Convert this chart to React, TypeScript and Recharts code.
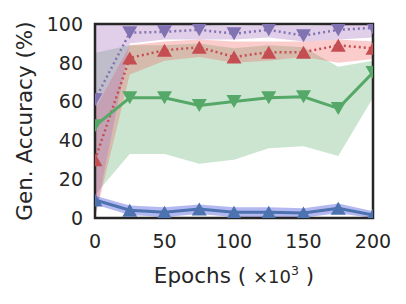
import React from 'react';
import { ComposedChart, Area, Line, XAxis, YAxis, ReferenceArea, Label } from 'recharts';

const epochs = [0, 25, 50, 75, 100, 125, 150, 175, 200];
const xTicks = [0, 50, 100, 150, 200];
const yTicks = [0, 20, 40, 60, 80, 100];

const purpleMean = [61, 95.5, 96, 97, 95, 97, 94, 97, 98];
const purpleLow = [0, 90, 92, 92, 92, 93, 91, 92, 93];
const purpleHigh = [100, 100, 99.5, 99.5, 99, 99.5, 99, 99.5, 99.5];

const redMean = [30, 82.5, 86.5, 88, 83, 85.5, 85.5, 89, 87.5];
const redLow = [0, 74, 81, 83, 80, 81, 83, 80, 82];
const redHigh = [56, 89, 91, 92, 91, 91, 91, 92, 91];

const greenMean = [47.5, 62, 62, 58, 60, 62, 62.5, 56.5, 75];
const greenLow = [12, 33, 33, 28, 30, 36, 37, 32, 62];
const greenHigh = [85, 89, 89, 90, 87.5, 89, 88, 78, 81];

const blueMean = [9.3, 4, 3, 4.6, 3, 3, 2.6, 5, 1.5];
const blueLow = [7, 1.5, 0.5, 2, 0.5, 0.5, 0.3, 2.5, 0];
const blueHigh = [11.5, 6.5, 5.5, 7, 5.5, 5.5, 5, 7.5, 3.5];

const data = epochs.map((e, i) => ({
  epoch: e,
  purple: purpleMean[i],
  purpleBand: [purpleLow[i], purpleHigh[i]],
  red: redMean[i],
  redBand: [redLow[i], redHigh[i]],
  green: greenMean[i],
  greenBand: [greenLow[i], greenHigh[i]],
  blue: blueMean[i],
  blueBand: [blueLow[i], blueHigh[i]],
}));

const FONT = 'DejaVu Sans';
const TEXT = '#262626';
const LAST = epochs.length - 1;

const tri = (up: boolean, color: string) => (props: any) => {
  const { cx, cy, index } = props;
  if (cx == null || cy == null) return <g key={`n-${index}`} />;
  const w = 7.5;
  const h = 6.5;
  // markers are clipped by the plot frame at the first and last epoch
  const l = index === 0 ? cx : cx - w;
  const r = index === LAST ? cx : cx + w;
  let d: string;
  if (up) {
    d = `M${cx},${cy - h} L${r},${cy + h} L${l},${cy + h} Z`;
  } else {
    d = `M${l},${cy - h} L${r},${cy - h} L${cx},${cy + h} Z`;
  }
  return <path key={`t-${index}`} d={d} fill={color} stroke="none" />;
};

const XLabel = (props: any) => {
  const vb = props.viewBox || {};
  const cx = vb.x + vb.width / 2;
  const y = vb.y + 65;
  return (
    <text x={cx} y={y} textAnchor="middle" fontFamily={FONT} fontSize={21.5} fill={TEXT}>
      {'Epochs ( '}
      <tspan fontSize={18}>×10</tspan>
      <tspan fontSize={12.5} dy={-8}>3</tspan>
      <tspan dy={8}>{' )'}</tspan>
    </text>
  );
};

const YLabel = (props: any) => {
  const vb = props.viewBox || {};
  const cx = 24;
  const cy = vb.y + vb.height / 2;
  return (
    <text
      x={cx}
      y={cy}
      textAnchor="middle"
      dominantBaseline="central"
      transform={`rotate(-90, ${cx}, ${cy})`}
      fontFamily={FONT}
      fontSize={21.5}
      fill={TEXT}
    >
      Gen. Accuracy (%)
    </text>
  );
};

export default function App() {
  return (
    <div style={{ position: 'absolute', left: 0, top: 0, width: 406, height: 304, background: '#fff' }}>
      <ComposedChart width={406} height={304} data={data} margin={{ top: 24, right: 33, bottom: 30, left: 0 }}>
        <XAxis
          dataKey="epoch"
          type="number"
          domain={[0, 200]}
          ticks={xTicks}
          allowDataOverflow
          tickLine={false}
          axisLine={false}
          tickSize={0}
          tickMargin={17}
          height={56}
          tick={{ fontFamily: FONT, fontSize: 19, fill: TEXT }}
          label={<Label content={<XLabel />} />}
        />
        <YAxis
          type="number"
          domain={[0, 100]}
          ticks={yTicks}
          allowDataOverflow
          tickLine={false}
          axisLine={false}
          tickSize={0}
          tickMargin={12}
          width={95}
          tick={{ fontFamily: FONT, fontSize: 19, fill: TEXT }}
          label={<Label content={<YLabel />} />}
        />
        <Area type="linear" dataKey="greenBand" stroke="none" fill="#55A868" fillOpacity={0.3} isAnimationActive={false} />
        <Area type="linear" dataKey="redBand" stroke="none" fill="#ee5555" fillOpacity={0.3} isAnimationActive={false} />
        <Area type="linear" dataKey="purpleBand" stroke="none" fill="#a874c0" fillOpacity={0.35} isAnimationActive={false} />
        <Area type="linear" dataKey="blueBand" stroke="none" fill="#434ed9" fillOpacity={0.4} isAnimationActive={false} />
        <Line type="linear" dataKey="blue" stroke="#4C72B0" strokeWidth={3} dot={tri(true, '#4C72B0')} isAnimationActive={false} />
        <Line type="linear" dataKey="red" stroke="#C44E52" strokeWidth={2.5} strokeDasharray="2 3" dot={tri(true, '#C44E52')} isAnimationActive={false} />
        <Line type="linear" dataKey="purple" stroke="#8172B2" strokeWidth={2.5} strokeDasharray="2 3" dot={tri(false, '#8172B2')} isAnimationActive={false} />
        <Line type="linear" dataKey="green" stroke="#55A868" strokeWidth={3} dot={tri(false, '#55A868')} isAnimationActive={false} />
        <ReferenceArea x1={0} x2={200} y1={0} y2={100} fill="none" stroke="#262626" strokeWidth={2.5} ifOverflow="visible" />
      </ComposedChart>
    </div>
  );
}
